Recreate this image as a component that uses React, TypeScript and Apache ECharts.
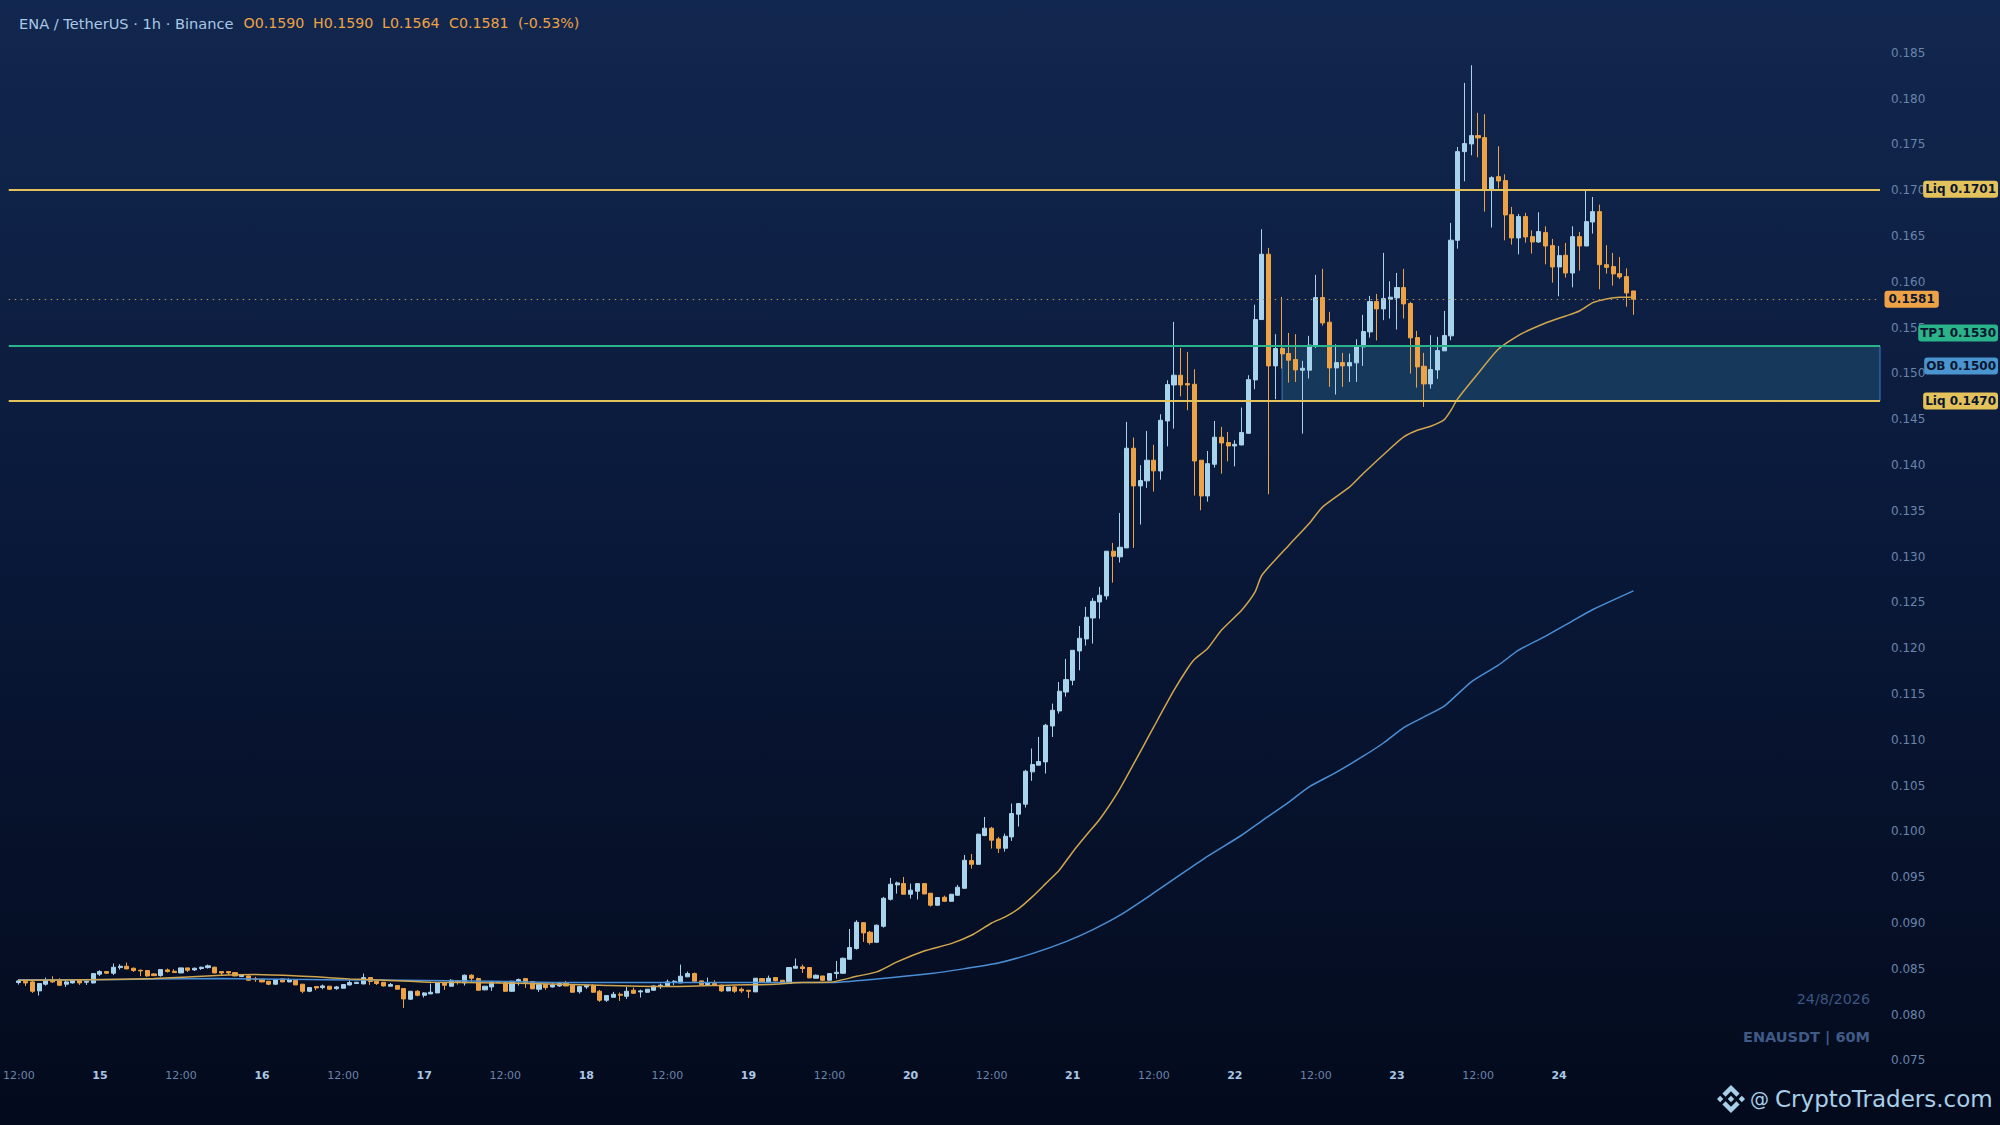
import React, { useEffect, useRef } from "react";
import * as echarts from "echarts";

// candle rows: open, high, low, close (1h, starting 14 Aug 12:00)
const candles: number[][] = [
[.0835,.08386,.08328,.08368],[.08364,.08364,.08313,.08346],[.08357,.08368,.08237,.08255],[.08259,.08343,.08208,.08339],[.08332,.08404,.08317,.08382],
[.08382,.08419,.08346,.08357],[.08368,.08397,.08313,.0832],[.08332,.08375,.08302,.08357],[.08346,.08382,.08339,.08375],[.08375,.08386,.08324,.08346],
[.08353,.08364,.08324,.08364],[.08346,.08448,.08339,.08448],[.08441,.08484,.08422,.0847],[.0847,.0847,.08444,.08452],[.08452,.08557,.08433,.08517],
[.08513,.0855,.08492,.08528],[.08528,.08568,.08495,.08499],[.08506,.08513,.08466,.08481],[.08484,.08492,.08419,.08477],[.08481,.08481,.08415,.08422],
[.08444,.08452,.08419,.08426],[.08426,.08492,.08415,.08492],[.08488,.08503,.08459,.0847],[.08473,.08495,.08455,.08459],[.08455,.0851,.08452,.0851],
[.0851,.0851,.08466,.08484],[.08488,.08513,.08477,.08506],[.08503,.08524,.08488,.08517],[.08513,.08546,.08503,.08532],[.08517,.08524,.08452,.08455],
[.0847,.0847,.0843,.08455],[.0847,.0847,.08433,.08455],[.08459,.08459,.08419,.08422],[.08415,.08437,.08412,.08433],[.08422,.08426,.08368,.08375],
[.0839,.08412,.08357,.08382],[.08386,.08386,.08353,.08357],[.08364,.08364,.08321,.08332],[.08332,.08382,.08324,.08382],[.0839,.0839,.08353,.08357],
[.08357,.08397,.08353,.08382],[.08372,.08372,.08324,.08324],[.08332,.08332,.08233,.08255],[.08255,.08295,.08245,.08295],[.08306,.08306,.08266,.08291],
[.08295,.08328,.08277,.08313],[.0831,.0831,.0827,.08277],[.08284,.08313,.0827,.08302],[.08288,.08328,.08284,.08328],[.08324,.08375,.08317,.0835],
[.08339,.08353,.08339,.08353],[.08335,.08448,.08331,.08404],[.08404,.08408,.08324,.08361],[.08364,.08375,.08324,.08339],[.08353,.08353,.08306,.08313],
[.0831,.08346,.0831,.08328],[.08317,.08317,.08277,.08277],[.08284,.08284,.08073,.08171],[.08168,.08255,.0816,.08255],[.08255,.08266,.082,.08211],
[.08211,.08244,.08186,.08237],[.08226,.08339,.08226,.08244],[.08237,.08353,.08237,.08346],[.08346,.08353,.0827,.0832],[.0831,.08386,.08306,.08375],
[.08368,.08375,.08328,.0835],[.08346,.08437,.08317,.0843],[.0843,.08441,.08357,.08397],[.08393,.08404,.08262,.08266],[.0827,.0831,.08266,.0831],
[.08302,.08368,.08259,.08361],[.08361,.08368,.08346,.0835],[.0835,.0835,.08248,.08255],[.08255,.08368,.08248,.08364],[.08364,.08393,.08317,.08382],
[.08393,.08393,.08291,.0835],[.08361,.08361,.08281,.08281],[.08277,.08353,.08248,.08328],[.08328,.08335,.0827,.08295],[.08302,.0835,.08295,.08324],
[.08313,.08357,.08302,.08339],[.0835,.08368,.0831,.08313],[.08321,.08328,.08244,.08244],[.0825,.08306,.0823,.08306],[.08302,.08321,.08281,.08321],
[.08317,.08332,.0824,.08244],[.08255,.0827,.08139,.08157],[.08157,.08208,.08139,.08208],[.08189,.08248,.08189,.08222],[.08222,.08241,.08149,.08211],
[.082,.08302,.08171,.08255],[.08266,.08295,.08226,.08233],[.08248,.08273,.08186,.08259],[.08244,.08277,.08237,.08277],[.08266,.0832,.0826,.08313],
[.08306,.08339,.08281,.08321],[.08313,.08382,.0831,.08357],[.08353,.08375,.08321,.08364],[.08346,.08546,.08346,.08419],[.08412,.0847,.08412,.08448],
[.08448,.08459,.08364,.08364],[.08368,.08368,.08328,.08328],[.08328,.08404,.0832,.0835],[.08339,.08375,.08321,.08321],[.08321,.08328,.08248,.08259],
[.08259,.083,.08255,.083],[.08302,.08317,.08237,.08255],[.08277,.08295,.08237,.08259],[.08266,.08266,.08182,.08255],[.08248,.08397,.08248,.08397],
[.08393,.08393,.08357,.08357],[.08357,.08426,.0835,.08397],[.08404,.08404,.08364,.08368],[.08375,.08375,.08335,.08342],[.08339,.08514,.08339,.08514],
[.08506,.08612,.08503,.08528],[.08521,.08546,.08455,.08503],[.08514,.08514,.08397,.08401],[.08397,.08437,.08397,.0843],[.08422,.08422,.08367,.08375],
[.08375,.08448,.08375,.08448],[.08448,.08586,.08393,.08462],[.08451,.08622,.08448,.08615],[.08604,.08935,.08604,.08732],[.08721,.0903,.0871,.09008],
[.09004,.09008,.08794,.08892],[.08899,.08914,.08764,.08786],[.0879,.08983,.08786,.08976],[.08964,.09285,.0895,.0927],[.09259,.09492,.09245,.09423],
[.09416,.09452,.09321,.09438],[.0943,.09503,.09314,.09314],[.09314,.0943,.09267,.09358],[.09347,.09434,.09256,.0943],[.0943,.09434,.09314,.09317],
[.09325,.09325,.09179,.09194],[.09194,.09281,.09187,.09278],[.09281,.09299,.0923,.09237],[.09237,.09317,.09234,.09314],[.09303,.09416,.09299,.0939],
[.09379,.09743,.09375,.09685],[.09681,.09754,.09594,.09641],[.09641,.09976,.09634,.09969],[.09955,.10158,.09947,.10035],[.10035,.10049,.09813,.09904],
[.09918,.0994,.09765,.09816],[.09816,.09976,.0978,.09947],[.0994,.10304,.09896,.10195],[.10188,.10304,.10053,.10304],[.10297,.10672,.1026,.10657],
[.1065,.10905,.10552,.1073],[.10723,.11032,.10723,.10763],[.10759,.11174,.10632,.11159],[.11151,.11395,.11031,.11322],[.11315,.11631,.11286,.1153],
[.11522,.11883,.11471,.11657],[.1165,.11977,.11595,.11977],[.1197,.12243,.11759,.12108],[.12101,.12451,.12028,.12338],[.1233,.12549,.1205,.12512],
[.12505,.12669,.12323,.12578],[.12571,.13059,.1253,.13059],[.13059,.13149,.12716,.13004],[.12997,.13477,.12935,.13102],[.13095,.14471,.13095,.14183],
[.14183,.143,.13095,.13772],[.13772,.13998,.1335,.1383],[.13827,.14372,.1375,.14052],[.14052,.1422,.1371,.13936],[.13935,.14554,.1384,.14488],
[.14481,.14925,.14204,.14878],[.14874,.15562,.14397,.1498],[.1498,.15278,.1475,.14874],[.14889,.15235,.14598,.14874],[.14881,.15045,.13666,.14044],
[.14052,.14052,.13506,.13662],[.13662,.14153,.136,.14015],[.14008,.14481,.13972,.14303],[.14303,.14416,.13906,.14241],[.14245,.14361,.1404,.14208],
[.14208,.1427,.13986,.14226],[.14219,.14627,.14215,.14354],[.14346,.1498,.14343,.14932],[.14929,.1575,.14827,.15588],[.15588,.16574,.15588,.16301],
[.16301,.1637,.13681,.15082],[.15082,.15428,.14718,.15271],[.15271,.15835,.15053,.15213],[.15217,.15442,.149,.15144],[.15151,.15428,.14907,.15038],
[.15035,.15137,.14343,.15056],[.15035,.1541,.14944,.15308],[.15297,.16076,.15278,.15828],[.15828,.16141,.15522,.15551],[.15559,.15672,.14853,.1506],
[.1506,.15318,.14769,.15118],[.15118,.15224,.14853,.15082],[.15082,.15217,.14907,.15118],[.15115,.15373,.14907,.15297],[.1529,.15639,.15082,.15457],
[.15453,.15846,.15391,.15784],[.15784,.15868,.15359,.15704],[.15704,.16316,.15581,.15817],[.1581,.16006,.15599,.15832],[.15824,.16097,.15479,.15937],
[.15937,.16141,.15599,.15759],[.15763,.15781,.14998,.15388],[.15391,.15464,.14845,.15071],[.15078,.15224,.14634,.14885],[.14885,.15417,.14834,.15042],
[.15038,.15399,.1494,.15249],[.15246,.15682,.15246,.15413],[.1541,.16643,.15362,.16454],[.16453,.17472,.16362,.17421],[.17421,.18171,.17097,.17509],
[.17505,.18364,.17381,.17596],[.17596,.17844,.1736,.17571],[.17574,.17829,.16766,.1701],[.1701,.17152,.16592,.17137],[.17148,.1748,.17017,.17101],
[.17105,.17174,.16453,.1673],[.16733,.16817,.16406,.16479],[.16479,.16741,.163,.16712],[.16712,.16752,.16428,.1649],[.16493,.16562,.16308,.16435],
[.16435,.16759,.16424,.16548],[.16537,.16606,.16191,.16391],[.16395,.16468,.15991,.16162],[.16162,.16391,.15842,.16286],[.1629,.16424,.16046,.16096],
[.16096,.16606,.1594,.16493],[.16493,.16544,.16122,.16391],[.16391,.16999,.16391,.16657],[.16653,.16926,.16526,.16766],[.16766,.16843,.15918,.16187],
[.16187,.16399,.16089,.16158],[.16166,.16315,.15958,.16086],[.16089,.1627,.16031,.16053],[.16056,.16147,.15729,.15878],[.1590,.1590,.1564,.1581],
];

// moving averages: [candle number, price], read at the points visible in the picture
const goldAverage: number[][] = [
[0,.08375],[13,.08382],[20,.08393],[30,.0843],[35,.08437],[40,.08426],[44,.08412],[49,.0839],[54,.08375],[61,.08353],[71,.08346],[86,.0832],[96,.08306],[106,.08324],[111,.08328],[116,.0835],[120,.08352],
[122,.08382],[124,.08418],[127,.08466],[130,.08575],[134,.08695],[138,.08775],[141,.08866],[144,.0900],[146,.09066],[148,.09157],[150,.09285],[152,.0943],[154,.09576],[156,.09776],[158,.09958],[160,.10133],[163,.10468],[168,.11141],[171,.11541],[173,.11778],[174,.11876],[176,.12],[178,.12196],[181,.12414],[183,.12614],[184,.12796],[188,.13124],[191,.13361],[193,.13543],[197,.13761],[199,.13907],[203,.1418],[205,.14307],[207,.1438],[209,.14423],[211,.14496],[212,.14598],[213,.14725],[216,.15],[219,.15263],[222,.15416],[226,.1555],[229,.15627],[231,.15681],[233,.15772],[235,.15813],[237,.15831],[239,.15831],
];
const blueAverage: number[][] = [
[0,.0838],[10,.0838],[20,.0839],[30,.08393],[40,.08385],[50,.08378],[57,.08375],[70,.08365],[82,.0835],[95,.0835],[110,.0835],[120,.0835],[127,.08389],[135,.08448],[140,.08502],[145,.08564],[150,.08666],[155,.08797],[159,.08928],[163,.09085],[168,.09328],[172,.0953],[176,.0973],[181,.09958],[184,.10115],[188,.1032],[191,.10486],[195,.10645],[199,.10821],[202,.10965],[205,.11134],[208,.1125],[211,.11367],[215,.11633],[219,.11815],[222,.11978],[226,.12131],[230,.12298],[233,.12422],[239,.12626],
];

const liqHigh = 0.1701;
const liqLow = 0.147;
const tp1 = 0.153;
const orderBlock = 0.15;
const lastPrice = 0.1581;
// the TP1 and OB tags sit above their levels, clear of one another
const tp1TagAt = 0.1544;
const orderBlockTagAt = 0.1508;
const zoneStartCandle = 187;
const firstDay = 14;
const firstHour = 12;
const leadingBlanks = 1;
const trailingBlanks = 36;
const headerParts: [string, number, string, number][] = [
  ["ENA / TetherUS · 1h · Binance", 19, "#a9c8e6", 14.6],
  ["O0.1590", 243.5, "#eda345", 14.2],
  ["H0.1590", 313, "#eda345", 14.2],
  ["L0.1564", 382, "#eda345", 14.2],
  ["C0.1581", 449, "#eda345", 14.2],
  ["(-0.53%)", 518, "#eda345", 14.2],
];

const FONT = "DejaVu Sans";
const UP = "#a8d3ec";
const DOWN = "#eda345";
const TAG_TEXT = "#0a1630";

const categories: string[] = [
  ...Array(leadingBlanks).fill(""),
  ...candles.map((_, i) => {
    const h = firstHour + i;
    if (h % 24 === 12) return "12:00";
    if (h % 24 === 0) return String(firstDay + h / 24);
    return "";
  }),
  ...Array(trailingBlanks).fill(""),
];

const BINANCE =
  "M16.624 13.9202l2.7175 2.7154-7.353 7.353-7.353-7.352 2.7175-2.7164 4.6355 4.6595 4.6356-4.6595zm4.6366-4.6366L24 12l-2.7154 2.7164L18.5682 12l2.6924-2.7164zm-9.272.001l2.7163 2.6914-2.7164 2.7174v-.001L9.2721 12l2.7164-2.7154zm-9.2722-.001L5.4088 12l-2.6914 2.6924L0 12l2.7164-2.7164zM11.9885.0115l7.353 7.329-2.7174 2.7154-4.6356-4.6356-4.6355 4.6595-2.7174-2.7154 7.353-7.353z";
echarts.graphic.registerShape("logo", echarts.graphic.extendPath(BINANCE, {}));

const tag = (text: string, bg: string, distance: number, align: string, padX = 2) => ({
  show: true,
  position: "end",
  formatter: text,
  distance,
  align,
  backgroundColor: bg,
  color: TAG_TEXT,
  fontFamily: FONT,
  fontSize: 12,
  fontWeight: "bold",
  padding: [2.5, padX, 2.5, padX],
  borderRadius: 3,
});

const NO_LABEL = { show: false };
const level = (value: number, color: string, width: number, type: any, label: any) => ({
  yAxis: value,
  lineStyle: { color, width, type },
  label,
});

export default function App() {
  const ref = useRef<HTMLDivElement>(null);
  useEffect(() => {
    document.body.style.margin = "0";
    const chart = echarts.init(ref.current!, undefined, { renderer: "svg" });
    chart.setOption({
      animation: false,
      textStyle: { fontFamily: FONT },
      backgroundColor: new echarts.graphic.LinearGradient(0, 0, 0, 1, [
        { offset: 0, color: "#12274f" },
        { offset: 0.5, color: "#091838" },
        { offset: 0.85, color: "#050e24" },
        { offset: 1, color: "#030a1c" },
      ]),
      grid: { left: 7.5, right: 120, top: 7, height: 1053.4, containLabel: false },
      xAxis: {
        type: "category",
        data: categories,
        boundaryGap: true,
        axisLine: { show: false },
        axisTick: { show: false },
        splitLine: { show: false },
        axisLabel: {
          interval: (_: number, v: string) => v !== "",
          margin: 10,
          hideOverlap: false,
          formatter: (v: string) => (v === "12:00" ? `{t|${v}}` : `{d|${v}}`),
          rich: {
            t: { color: "#6a84ab", fontSize: 11, fontFamily: FONT },
            d: { color: "#a9c8e6", fontSize: 11, fontWeight: "bold", fontFamily: FONT },
          },
        },
      },
      yAxis: {
        type: "value",
        position: "right",
        min: 0.075,
        max: 0.19,
        interval: 0.005,
        axisLine: { show: false },
        axisTick: { show: false },
        splitLine: { show: false },
        axisLabel: {
          margin: 11,
          padding: [3, 0, 0, 0],
          color: "#6a84ab",
          fontSize: 12,
          fontFamily: FONT,
          formatter: (v: number) => (v > 0.186 ? "" : v.toFixed(3)),
        },
      },
      series: [
        {
          type: "candlestick",
          barWidth: 4.6,
          data: [
            ...Array(leadingBlanks).fill(["-", "-", "-", "-"]),
            ...candles.map(([o, h, l, c]) => [o, c, l, h]),
          ],
          itemStyle: {
            color: UP,
            color0: DOWN,
            borderColor: UP,
            borderColor0: DOWN,
            borderWidth: 1,
          },
          markArea: {
            silent: true,
            itemStyle: { color: "#16395b", borderColor: "#3f7cc0", borderWidth: 1 },
            data: [[{ xAxis: zoneStartCandle + leadingBlanks, yAxis: tp1 }, { yAxis: liqLow }]],
          },
          markLine: {
            silent: true,
            symbol: ["none", "none"],
            precision: 4,
            data: [
              level(lastPrice, "#b8935a", 1, [1.5, 4.5], tag("0.1581", DOWN, 4.5, "left", 4)),
              level(liqHigh, "#e3c15b", 2, "solid", tag("Liq 0.1701", "#e3c15b", 118, "right")),
              level(tp1, "#2bb38a", 2, "solid", NO_LABEL),
              level(tp1TagAt, "rgba(0,0,0,0)", 1, "solid", tag("TP1 0.1530", "#2bb38a", 118, "right")),
              level(orderBlockTagAt, "rgba(0,0,0,0)", 1, "solid", tag("OB 0.1500", "#4a94cf", 118, "right")),
              level(liqLow, "#e3c15b", 2, "solid", tag("Liq 0.1470", "#e3c15b", 118, "right")),
            ],
          },
        },
        {
          type: "line",
          symbol: "none",
          smooth: 0.2,
          lineStyle: { color: "#4a8fd6", width: 1.5 },
          z: 3,
          data: blueAverage.map(([i, v]) => [i + leadingBlanks, v]),
        },
        {
          type: "line",
          symbol: "none",
          smooth: 0.2,
          lineStyle: { color: "#d2a64e", width: 1.5 },
          z: 3,
          data: goldAverage.map(([i, v]) => [i + leadingBlanks, v]),
        },
      ],
      graphic: [
        ...headerParts.map(([text, x, color, size]) => ({
          type: "text",
          x,
          y: 23,
          style: { text, fill: color, font: `${size}px "${FONT}"`, verticalAlign: "middle" },
        })),
        {
          type: "text",
          x: 1870,
          y: 999,
          style: { text: "24/8/2026", fill: "#3b5680", font: `14.3px "${FONT}"`, align: "right", verticalAlign: "middle" },
        },
        {
          type: "text",
          x: 1870,
          y: 1037,
          style: { text: "ENAUSDT | 60M", fill: "#3f5a85", font: `bold 14.5px "${FONT}"`, align: "right", verticalAlign: "middle" },
        },
        { type: "logo", x: 1717, y: 1085, scaleX: 1.167, scaleY: 1.167, style: { fill: "#a8cfe8" } },
        {
          type: "text",
          x: 1750,
          y: 1099,
          style: { text: "@", fill: "#a8cfe8", font: `19px "${FONT}"`, verticalAlign: "middle" },
        },
        {
          type: "text",
          x: 1775,
          y: 1099,
          style: { text: "CryptoTraders.com", fill: "#a8cfe8", font: `23px "${FONT}"`, verticalAlign: "middle" },
        },
      ],
    });
    return () => chart.dispose();
  }, []);
  return <div ref={ref} style={{ position: "fixed", left: 0, top: 0, width: 2000, height: 1125 }} />;
}
